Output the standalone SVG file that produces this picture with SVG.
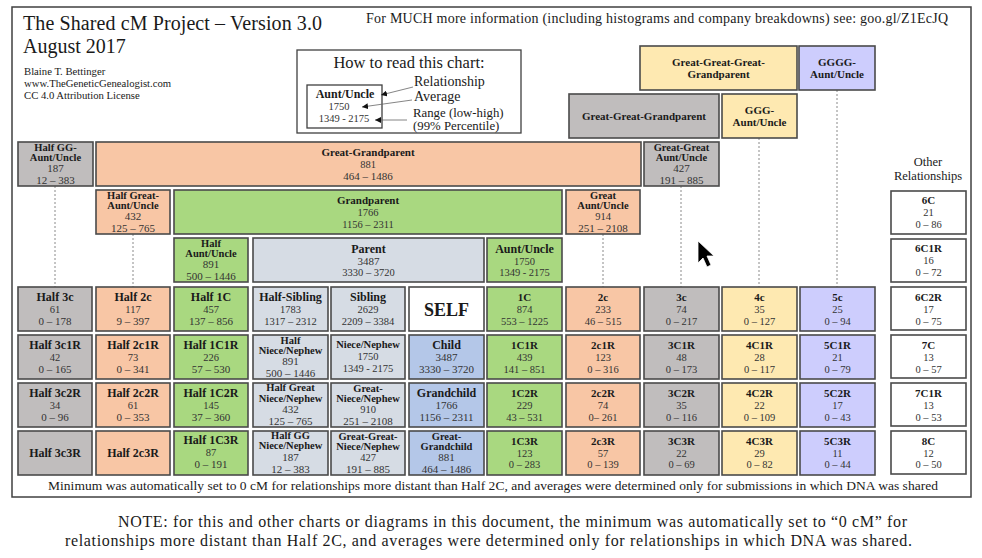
<svg xmlns="http://www.w3.org/2000/svg" width="982" height="558" viewBox="0 0 982 558">
<defs>
<style>
text{font-family:"Liberation Serif","Times New Roman",serif;fill:#1a1a1a}
.b{stroke:#4a4a4a;stroke-width:1.6}
.gy{fill:#c0bdbd}.pc{fill:#f8c6a5}.gn{fill:#a9d880}.sl{fill:#d6dce4}.bl{fill:#b4c7e8}.yl{fill:#fee9b1}.lv{fill:#cdcdfd}.wh{fill:#ffffff}
.t{font-weight:bold;font-size:12px;text-anchor:middle}
.ts{font-weight:bold;font-size:11px;text-anchor:middle}
.tx{font-weight:bold;font-size:10.5px;text-anchor:middle}
.n{font-size:11px;text-anchor:middle;fill:#333}
.ns{font-size:10.5px;text-anchor:middle;fill:#333}
.dash{stroke:#8a8a8a;stroke-width:1;stroke-dasharray:2 2;fill:none}
.lg{stroke:#666;stroke-width:0.8;fill:none;marker-end:url(#ah)}
</style>
<marker id="ah" viewBox="0 0 6 6" refX="6" refY="3" markerWidth="6" markerHeight="6" markerUnits="userSpaceOnUse" orient="auto"><path d="M0,0 L6,3 L0,6 z" fill="#111"/></marker>
</defs>
<rect width="982" height="558" fill="#fff"/>
<rect x="12" y="7" width="959" height="490" fill="none" stroke="#404040" stroke-width="1.5"/>

<g id="header">
<text x="23" y="30" font-size="20" textLength="299">The Shared cM Project – Version 3.0</text>
<text x="23" y="53" font-size="20">August 2017</text>
<text x="24" y="75" font-size="10.7">Blaine T. Bettinger</text>
<text x="24" y="87" font-size="10.7">www.TheGeneticGenealogist.com</text>
<text x="24" y="99" font-size="10.7">CC 4.0 Attribution License</text>
<text x="366" y="23" font-size="14" textLength="582">For MUCH more information (including histograms and company breakdowns) see: goo.gl/Z1EcJQ</text>
</g>

<g id="legend">
<rect x="297" y="50" width="224" height="83" fill="#fff" stroke="#404040" stroke-width="1.3"/>
<text x="409" y="68" font-size="16.5" text-anchor="middle">How to read this chart:</text>
<rect x="307" y="85" width="75" height="43" fill="#fff" stroke="#404040" stroke-width="1.3"/>
<text x="345" y="98" font-size="12" font-weight="bold" text-anchor="middle">Aunt/Uncle</text>
<text x="339" y="110" class="ns">1750</text>
<text x="344" y="122" class="ns">1349 - 2175</text>
<text x="414" y="86" font-size="14">Relationship</text>
<text x="414" y="101" font-size="14">Average</text>
<text x="413" y="117" font-size="12.8">Range (low-high)</text>
<text x="413" y="130" font-size="12.8">(99% Percentile)</text>
<path class="lg" d="M413,87 L381,95"/>
<path class="lg" d="M412,100 L362,107"/>
<path class="lg" d="M407,120 L375,120"/>
</g>

<g id="connectors">
<path class="dash" d="M55,186 V287 M133,234 V287 M603,234 V287 M681,186 V287 M759,138 V287 M837,90 V287"/>
</g>

<g id="n-gggg-grandparent"><rect class="b yl" x="640" y="46" width="157" height="44"/><text class="ts" x="718.5" y="66">Great-Great-Great-</text><text class="ts" x="718.5" y="78">Grandparent</text></g>
<g id="n-gggg-aunt"><rect class="b lv" x="799" y="46" width="76" height="44"/><text class="ts" x="837" y="66">GGGG-</text><text class="ts" x="837" y="78">Aunt/Uncle</text></g>
<g id="n-gg-grandparent"><rect class="b gy" x="569" y="94" width="150" height="44"/><text class="ts" x="644" y="120">Great-Great-Grandparent</text></g>
<g id="n-ggg-aunt"><rect class="b yl" x="722" y="94" width="75" height="44"/><text class="ts" x="759.5" y="114">GGG-</text><text class="ts" x="759.5" y="126">Aunt/Uncle</text></g>

<g id="n-half-gg-aunt"><rect class="b gy" x="18" y="142" width="75" height="44"/><text class="tx" x="55.5" y="151">Half GG-</text><text class="tx" x="55.5" y="161">Aunt/Uncle</text><text class="n" x="55.5" y="172">187</text><text class="n" x="55.5" y="184">12 – 383</text></g>
<g id="n-great-grandparent"><rect class="b pc" x="96" y="142" width="545" height="44"/><text class="ts" x="368" y="156" font-size="11.5">Great-Grandparent</text><text class="ns" x="368" y="168">881</text><text class="n" x="368" y="180">464 – 1486</text></g>
<g id="n-gg-aunt"><rect class="b gy" x="644" y="142" width="75" height="44"/><text class="tx" x="681.5" y="151">Great-Great</text><text class="tx" x="681.5" y="161">Aunt/Uncle</text><text class="n" x="681.5" y="172">427</text><text class="n" x="681.5" y="184">191 – 885</text></g>

<g id="n-half-great-aunt"><rect class="b pc" x="96" y="190" width="74" height="44"/><text class="tx" x="133" y="199">Half Great-</text><text class="tx" x="133" y="209">Aunt/Uncle</text><text class="n" x="133" y="220">432</text><text class="n" x="133" y="232">125 – 765</text></g>
<g id="n-grandparent"><rect class="b gn" x="174" y="190" width="388" height="44"/><text class="ts" x="368" y="204" font-size="11.5">Grandparent</text><text class="ns" x="368" y="216">1766</text><text class="ns" x="368" y="228">1156 – 2311</text></g>
<g id="n-great-aunt"><rect class="b pc" x="566" y="190" width="74" height="44"/><text class="tx" x="603" y="199">Great</text><text class="tx" x="603" y="209">Aunt/Uncle</text><text class="ns" x="603" y="220">914</text><text class="n" x="603" y="232">251 – 2108</text></g>

<g id="n-half-aunt"><rect class="b gn" x="174" y="238" width="74" height="44"/><text class="tx" x="211" y="247">Half</text><text class="tx" x="211" y="257">Aunt/Uncle</text><text class="n" x="211" y="268">891</text><text class="n" x="211" y="280">500 – 1446</text></g>
<g id="n-parent"><rect class="b sl" x="253" y="238" width="231" height="44"/><text class="t" x="368.5" y="253">Parent</text><text class="n" x="368.5" y="265">3487</text><text class="ns" x="368.5" y="276">3330 – 3720</text></g>
<g id="n-aunt"><rect class="b gn" x="487" y="238" width="75" height="44"/><text class="t" x="524.5" y="253">Aunt/Uncle</text><text class="ns" x="524.5" y="265">1750</text><text class="ns" x="524.5" y="276">1349 - 2175</text></g>

<g id="other-label"><text x="928" y="166" font-size="12.5" text-anchor="middle">Other</text><text x="928" y="180" font-size="12.5" text-anchor="middle">Relationships</text></g>

<!-- column 1 -->
<g id="n-half-3c"><rect class="b gy" x="18" y="287" width="74" height="44"/><text class="t" x="55" y="301">Half 3c</text><text class="ns" x="55" y="313">61</text><text class="n" x="55" y="325">0 – 178</text></g>
<g id="n-half-3c1r"><rect class="b gy" x="18" y="335" width="74" height="44"/><text class="t" x="55" y="349">Half 3c1R</text><text class="ns" x="55" y="361">42</text><text class="n" x="55" y="373">0 – 165</text></g>
<g id="n-half-3c2r"><rect class="b gy" x="18" y="383" width="74" height="44"/><text class="t" x="55" y="397">Half 3c2R</text><text class="ns" x="55" y="409">34</text><text class="n" x="55" y="421">0 – 96</text></g>
<g id="n-half-3c3r"><rect class="b gy" x="18" y="431" width="74" height="44"/><text class="t" x="55" y="457">Half 3c3R</text></g>
<!-- column 2 -->
<g id="n-half-2c"><rect class="b pc" x="96" y="287" width="74" height="44"/><text class="t" x="133" y="301">Half 2c</text><text class="ns" x="133" y="313">117</text><text class="n" x="133" y="325">9 – 397</text></g>
<g id="n-half-2c1r"><rect class="b pc" x="96" y="335" width="74" height="44"/><text class="t" x="133" y="349">Half 2c1R</text><text class="ns" x="133" y="361">73</text><text class="n" x="133" y="373">0 – 341</text></g>
<g id="n-half-2c2r"><rect class="b pc" x="96" y="383" width="74" height="44"/><text class="t" x="133" y="397">Half 2c2R</text><text class="ns" x="133" y="409">61</text><text class="n" x="133" y="421">0 – 353</text></g>
<g id="n-half-2c3r"><rect class="b pc" x="96" y="431" width="74" height="44"/><text class="t" x="133" y="457">Half 2c3R</text></g>
<!-- column 3 -->
<g id="n-half-1c"><rect class="b gn" x="174" y="287" width="74" height="44"/><text class="t" x="211" y="301">Half 1C</text><text class="ns" x="211" y="313">457</text><text class="n" x="211" y="325">137 – 856</text></g>
<g id="n-half-1c1r"><rect class="b gn" x="174" y="335" width="74" height="44"/><text class="t" x="211" y="349">Half 1C1R</text><text class="ns" x="211" y="361">226</text><text class="n" x="211" y="373">57 – 530</text></g>
<g id="n-half-1c2r"><rect class="b gn" x="174" y="383" width="74" height="44"/><text class="t" x="211" y="397">Half 1C2R</text><text class="ns" x="211" y="409">145</text><text class="n" x="211" y="421">37 – 360</text></g>
<g id="n-half-1c3r"><rect class="b gn" x="174" y="431" width="74" height="44"/><text class="t" x="211" y="444">Half 1C3R</text><text class="ns" x="211" y="456">87</text><text class="n" x="211" y="468">0 – 191</text></g>
<!-- column 4 -->
<g id="n-half-sibling"><rect class="b sl" x="253" y="287" width="75" height="44"/><text class="t" x="290.5" y="301">Half-Sibling</text><text class="ns" x="290.5" y="313">1783</text><text class="ns" x="290.5" y="325">1317 – 2312</text></g>
<g id="n-half-niece"><rect class="b sl" x="253" y="335" width="75" height="44"/><text class="tx" x="290.5" y="344">Half</text><text class="tx" x="290.5" y="354">Niece/Nephew</text><text class="n" x="290.5" y="365">891</text><text class="n" x="290.5" y="377">500 – 1446</text></g>
<g id="n-half-great-niece"><rect class="b sl" x="253" y="383" width="75" height="44"/><text class="tx" x="290.5" y="391" font-size="9.5">Half Great</text><text class="tx" x="290.5" y="402">Niece/Nephew</text><text class="n" x="290.5" y="413">432</text><text class="n" x="290.5" y="425">125 – 765</text></g>
<g id="n-half-gg-niece"><rect class="b sl" x="253" y="431" width="75" height="44"/><text class="tx" x="290.5" y="439" font-size="9.5">Half GG</text><text class="tx" x="290.5" y="449">Niece/Nephew</text><text class="n" x="290.5" y="461">187</text><text class="n" x="290.5" y="473">12 – 383</text></g>
<!-- column 5 -->
<g id="n-sibling"><rect class="b sl" x="331" y="287" width="74" height="44"/><text class="t" x="368" y="301">Sibling</text><text class="ns" x="368" y="313">2629</text><text class="ns" x="368" y="325">2209 – 3384</text></g>
<g id="n-niece"><rect class="b sl" x="331" y="335" width="74" height="44"/><text class="tx" x="368" y="348">Niece/Nephew</text><text class="ns" x="368" y="360">1750</text><text class="ns" x="368" y="372">1349 - 2175</text></g>
<g id="n-great-niece"><rect class="b sl" x="331" y="383" width="74" height="44"/><text class="tx" x="368" y="392">Great-</text><text class="tx" x="368" y="402">Niece/Nephew</text><text class="ns" x="368" y="413">910</text><text class="n" x="368" y="425">251 – 2108</text></g>
<g id="n-gg-niece"><rect class="b sl" x="331" y="431" width="74" height="44"/><text class="tx" x="368" y="440" font-size="9.8">Great-Great-</text><text class="tx" x="368" y="450" font-size="9.8">Niece/Nephew</text><text class="ns" x="368" y="461">427</text><text class="n" x="368" y="473">191 – 885</text></g>
<!-- column 6 -->
<g id="n-self"><rect class="b wh" x="409" y="287" width="75" height="44"/><text x="446.5" y="316" font-size="18" font-weight="bold" text-anchor="middle">SELF</text></g>
<g id="n-child"><rect class="b bl" x="409" y="335" width="75" height="44"/><text class="t" x="446.5" y="349">Child</text><text class="n" x="446.5" y="361">3487</text><text class="n" x="446.5" y="373">3330 – 3720</text></g>
<g id="n-grandchild"><rect class="b bl" x="409" y="383" width="75" height="44"/><text class="t" x="446.5" y="397">Grandchild</text><text class="n" x="446.5" y="409">1766</text><text class="n" x="446.5" y="421">1156 – 2311</text></g>
<g id="n-great-grandchild"><rect class="b bl" x="409" y="431" width="75" height="44"/><text class="tx" x="446.5" y="440">Great-</text><text class="tx" x="446.5" y="450">Grandchild</text><text class="n" x="446.5" y="461">881</text><text class="n" x="446.5" y="473">464 – 1486</text></g>
<!-- column 7 -->
<g id="n-1c"><rect class="b gn" x="487" y="287" width="75" height="44"/><text class="ts" x="524.5" y="301">1C</text><text class="ns" x="524.5" y="313">874</text><text class="ns" x="524.5" y="325">553 – 1225</text></g>
<g id="n-1c1r"><rect class="b gn" x="487" y="335" width="75" height="44"/><text class="ts" x="524.5" y="349">1C1R</text><text class="ns" x="524.5" y="361">439</text><text class="ns" x="524.5" y="373">141 – 851</text></g>
<g id="n-1c2r"><rect class="b gn" x="487" y="383" width="75" height="44"/><text class="ts" x="524.5" y="397">1C2R</text><text class="ns" x="524.5" y="409">229</text><text class="ns" x="524.5" y="421">43 – 531</text></g>
<g id="n-1c3r"><rect class="b gn" x="487" y="431" width="75" height="44"/><text class="ts" x="524.5" y="445">1C3R</text><text class="ns" x="524.5" y="457">123</text><text class="ns" x="524.5" y="468">0 – 283</text></g>
<!-- column 8 -->
<g id="n-2c"><rect class="b pc" x="566" y="287" width="74" height="44"/><text class="ts" x="603" y="301">2c</text><text class="ns" x="603" y="313">233</text><text class="ns" x="603" y="325">46 – 515</text></g>
<g id="n-2c1r"><rect class="b pc" x="566" y="335" width="74" height="44"/><text class="ts" x="603" y="349">2c1R</text><text class="ns" x="603" y="361">123</text><text class="ns" x="603" y="373">0 – 316</text></g>
<g id="n-2c2r"><rect class="b pc" x="566" y="383" width="74" height="44"/><text class="ts" x="603" y="397">2c2R</text><text class="ns" x="603" y="409">74</text><text class="ns" x="603" y="421">0– 261</text></g>
<g id="n-2c3r"><rect class="b pc" x="566" y="431" width="74" height="44"/><text class="ts" x="603" y="445">2c3R</text><text class="ns" x="603" y="457">57</text><text class="ns" x="603" y="468">0 – 139</text></g>
<!-- column 9 -->
<g id="n-3c"><rect class="b gy" x="644" y="287" width="75" height="44"/><text class="ts" x="681.5" y="301">3c</text><text class="ns" x="681.5" y="313">74</text><text class="ns" x="681.5" y="325">0 – 217</text></g>
<g id="n-3c1r"><rect class="b gy" x="644" y="335" width="75" height="44"/><text class="ts" x="681.5" y="349">3C1R</text><text class="ns" x="681.5" y="361">48</text><text class="ns" x="681.5" y="373">0 – 173</text></g>
<g id="n-3c2r"><rect class="b gy" x="644" y="383" width="75" height="44"/><text class="ts" x="681.5" y="397">3C2R</text><text class="ns" x="681.5" y="409">35</text><text class="ns" x="681.5" y="421">0 – 116</text></g>
<g id="n-3c3r"><rect class="b gy" x="644" y="431" width="75" height="44"/><text class="ts" x="681.5" y="445">3C3R</text><text class="ns" x="681.5" y="457">22</text><text class="ns" x="681.5" y="468">0 – 69</text></g>
<!-- column 10 -->
<g id="n-4c"><rect class="b yl" x="722" y="287" width="75" height="44"/><text class="ts" x="759.5" y="301">4c</text><text class="ns" x="759.5" y="313">35</text><text class="ns" x="759.5" y="325">0 – 127</text></g>
<g id="n-4c1r"><rect class="b yl" x="722" y="335" width="75" height="44"/><text class="ts" x="759.5" y="349">4C1R</text><text class="ns" x="759.5" y="361">28</text><text class="ns" x="759.5" y="373">0 – 117</text></g>
<g id="n-4c2r"><rect class="b yl" x="722" y="383" width="75" height="44"/><text class="ts" x="759.5" y="397">4C2R</text><text class="ns" x="759.5" y="409">22</text><text class="ns" x="759.5" y="421">0 – 109</text></g>
<g id="n-4c3r"><rect class="b yl" x="722" y="431" width="75" height="44"/><text class="ts" x="759.5" y="445">4C3R</text><text class="ns" x="759.5" y="457">29</text><text class="ns" x="759.5" y="468">0 – 82</text></g>
<!-- column 11 -->
<g id="n-5c"><rect class="b lv" x="800" y="287" width="75" height="44"/><text class="ts" x="837.5" y="301">5c</text><text class="ns" x="837.5" y="313">25</text><text class="ns" x="837.5" y="325">0 – 94</text></g>
<g id="n-5c1r"><rect class="b lv" x="800" y="335" width="75" height="44"/><text class="ts" x="837.5" y="349">5C1R</text><text class="ns" x="837.5" y="361">21</text><text class="ns" x="837.5" y="373">0 – 79</text></g>
<g id="n-5c2r"><rect class="b lv" x="800" y="383" width="75" height="44"/><text class="ts" x="837.5" y="397">5C2R</text><text class="ns" x="837.5" y="409">17</text><text class="ns" x="837.5" y="421">0 – 43</text></g>
<g id="n-5c3r"><rect class="b lv" x="800" y="431" width="75" height="44"/><text class="ts" x="837.5" y="445">5C3R</text><text class="ns" x="837.5" y="457">11</text><text class="ns" x="837.5" y="468">0 – 44</text></g>
<!-- other -->
<g id="n-6c"><rect class="b wh" x="891" y="191" width="75" height="43"/><text class="ts" x="928.5" y="204">6C</text><text class="ns" x="928.5" y="216">21</text><text class="ns" x="928.5" y="228">0 – 86</text></g>
<g id="n-6c1r"><rect class="b wh" x="891" y="239" width="75" height="43"/><text class="ts" x="928.5" y="252">6C1R</text><text class="ns" x="928.5" y="264">16</text><text class="ns" x="928.5" y="276">0 – 72</text></g>
<g id="n-6c2r"><rect class="b wh" x="891" y="287" width="75" height="43"/><text class="ts" x="928.5" y="301">6C2R</text><text class="ns" x="928.5" y="313">17</text><text class="ns" x="928.5" y="325">0 – 75</text></g>
<g id="n-7c"><rect class="b wh" x="891" y="335" width="75" height="43"/><text class="ts" x="928.5" y="349">7C</text><text class="ns" x="928.5" y="361">13</text><text class="ns" x="928.5" y="373">0 – 57</text></g>
<g id="n-7c1r"><rect class="b wh" x="891" y="383" width="75" height="43"/><text class="ts" x="928.5" y="397">7C1R</text><text class="ns" x="928.5" y="409">13</text><text class="ns" x="928.5" y="421">0 – 53</text></g>
<g id="n-8c"><rect class="b wh" x="891" y="431" width="75" height="43"/><text class="ts" x="928.5" y="445">8C</text><text class="ns" x="928.5" y="457">12</text><text class="ns" x="928.5" y="468">0 – 50</text></g>

<g id="footer">
<text x="48" y="490" font-size="13.5" textLength="890">Minimum was automatically set to 0 cM for relationships more distant than Half 2C, and averages were determined only for submissions in which DNA was shared</text>
<text x="118" y="527" font-size="16" textLength="789">NOTE: for this and other charts or diagrams in this document, the minimum was automatically set to “0 cM” for</text>
<text x="65" y="546" font-size="16" textLength="847">relationships more distant than Half 2C, and averages were determined only for relationships in which DNA was shared.</text>
</g>

<path id="cursor" d="M698,241 L698,263 L703,258 L707,267 L711,265 L707,256 L714,256 Z" fill="#000" stroke="#fff" stroke-width="0.8"/>
</svg>
